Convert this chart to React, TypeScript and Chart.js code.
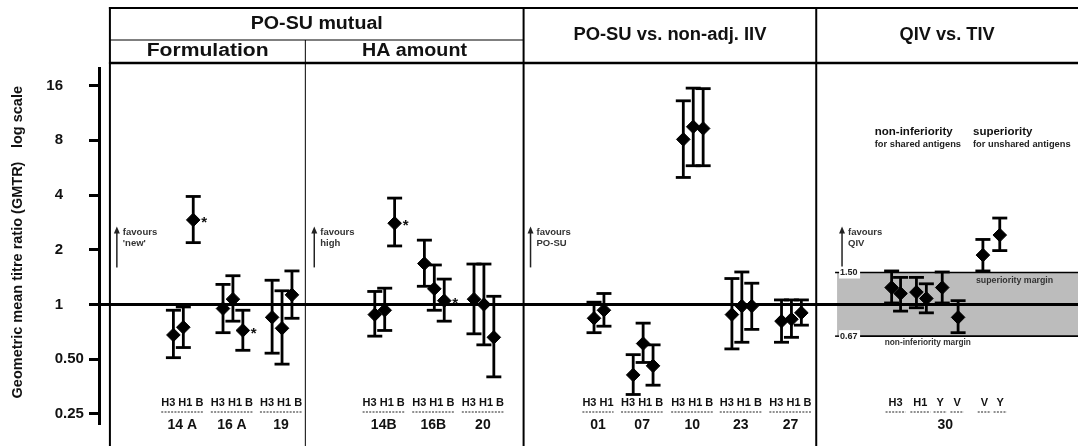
import React, { useEffect, useRef } from 'react';
import { Chart, registerables } from 'chart.js';

Chart.register(...registerables);

const FONT = '"Liberation Sans", Arial, Helvetica, sans-serif';

// ---------- data ----------
const groupLabels = ['14 A', '16 A', '19', '14B', '16B', '20', '01', '07', '10', '23', '27'];
const groupCenters = [8.7, 13.7, 18.65, 29.0, 34.0, 39.0, 50.6, 55.05, 60.1, 65.0, 70.0];
const groupAntigens = [
  ['H3', 'H1', 'B'], ['H3', 'H1', 'B'], ['H3', 'H1', 'B'],
  ['H3', 'H1', 'B'], ['H3', 'H1', 'B'], ['H3', 'H1', 'B'],
  ['H3', 'H1'], ['H3', 'H1', 'B'], ['H3', 'H1', 'B'], ['H3', 'H1', 'B'], ['H3', 'H1', 'B'],
];
const groupGmtr = [
  [0.68, 0.75, 2.92], [0.95, 1.07, 0.72], [0.85, 0.74, 1.13],
  [0.88, 0.93, 2.80], [1.68, 1.22, 1.05], [1.07, 1.0, 0.66],
  [0.84, 0.93], [0.41, 0.61, 0.46], [8.1, 9.5, 9.3], [0.88, 0.98, 0.98], [0.81, 0.83, 0.9],
];
const groupLow = [
  [0.51, 0.58, 2.19], [0.70, 0.81, 0.56], [0.54, 0.47, 0.84],
  [0.67, 0.72, 2.10], [1.26, 0.93, 0.81], [0.69, 0.60, 0.40],
  [0.70, 0.76], [0.32, 0.48, 0.36], [5.0, 5.8, 5.8], [0.57, 0.62, 0.73], [0.62, 0.66, 0.77],
];
const groupHigh = [
  [0.93, 0.97, 3.93], [1.29, 1.44, 0.93], [1.36, 1.19, 1.53],
  [1.18, 1.23, 3.85], [2.26, 1.65, 1.38], [1.67, 1.67, 1.11],
  [1.03, 1.15], [0.53, 0.79, 0.60], [13.2, 15.5, 15.4], [1.39, 1.51, 1.31], [1.06, 1.06, 1.06],
];
const starredGroups = ['14 A', '16 A', '14B', '16B'];
const starredAntigen = 'B';

const qivAntigens = ['H3', 'H3', 'H1', 'H1', 'Y', 'V', 'V', 'Y'];
const qivPositions = [80.1, 81.0, 82.6, 83.6, 85.2, 86.8, 89.3, 91.0];
const qivGmtr = [1.24, 1.15, 1.17, 1.08, 1.24, 0.85, 1.87, 2.41];
const qivLow = [1.02, 0.92, 0.96, 0.9, 1.02, 0.7, 1.53, 1.98];
const qivHigh = [1.53, 1.41, 1.41, 1.3, 1.51, 1.05, 2.28, 2.99];
const qivTickLabels = ['H3', 'H1', 'Y', 'V', 'V', 'Y'];
const qivTickPositions = [80.5, 83.0, 85.0, 86.7, 89.45, 91.05];
const qivGroupLabel = '30';
const qivGroupCenter = 85.5;

const yTickValues = [0.25, 0.5, 1, 2, 4, 8, 16];
const yTickLabels = ['0.25', '0.50', '1', '2', '4', '8', '16'];
const superiorityMargin = 1.5;
const nonInferiorityMargin = 0.67;
const marginLabels = ['1.50', '0.67'];

const panelDividers = [1.3, 21.0, 43.0, 72.5];
const qivBandStart = 74.6;
const favoursX = [2.0, 21.9, 43.7, 75.1];
const favoursText = [['favours', "'new'"], ['favours', 'high'], ['favours', 'PO-SU'], ['favours', 'QIV']];
const favoursRange = [1.6, 2.65];
const qivNotes = [
  { x: 78.4, title: 'non-inferiority', sub: 'for shared antigens' },
  { x: 88.3, title: 'superiority', sub: 'for unshared antigens' },
];

const X_MIN = 0.2;
const X_MAX = 98.1;
const Y_MIN = 0.223;
const Y_MAX = 20;
const POINT_SPACING = 1.0;

type Pt = { x: number; y: number; low: number; high: number; star: boolean };

function buildPoints(): Pt[] {
  const pts: Pt[] = [];
  groupLabels.forEach((g, gi) => {
    const n = groupGmtr[gi].length;
    groupGmtr[gi].forEach((v, i) => {
      pts.push({
        x: groupCenters[gi] + (i - (n - 1) / 2) * POINT_SPACING,
        y: v,
        low: groupLow[gi][i],
        high: groupHigh[gi][i],
        star: starredGroups.includes(g) && groupAntigens[gi][i] === starredAntigen,
      });
    });
  });
  qivGmtr.forEach((v, i) => {
    pts.push({ x: qivPositions[i], y: v, low: qivLow[i], high: qivHigh[i], star: false });
  });
  return pts;
}

function drawText(
  ctx: CanvasRenderingContext2D,
  s: string,
  x: number,
  y: number,
  size: number,
  o: { bold?: boolean; align?: CanvasTextAlign; color?: string; width?: number; sx?: number } = {}
) {
  const { bold = true, align = 'center', color = '#111', width = 0, sx = 1 } = o;
  ctx.save();
  ctx.font = `${bold ? 'bold ' : ''}${size}px ${FONT}`;
  ctx.fillStyle = color;
  ctx.textBaseline = 'middle';
  ctx.textAlign = align;
  const w = ctx.measureText(s).width;
  const k = width ? width / w : sx;
  ctx.translate(x, y);
  ctx.scale(k, 1);
  ctx.fillText(s, 0, 0);
  ctx.restore();
  return w * k;
}

function line(ctx: CanvasRenderingContext2D, x1: number, y1: number, x2: number, y2: number, w: number, color = '#000') {
  ctx.save();
  ctx.strokeStyle = color;
  ctx.lineWidth = w;
  ctx.beginPath();
  ctx.moveTo(x1, y1);
  ctx.lineTo(x2, y2);
  ctx.stroke();
  ctx.restore();
}

function dashedUnderline(ctx: CanvasRenderingContext2D, x1: number, x2: number, y: number) {
  ctx.save();
  ctx.strokeStyle = '#222';
  ctx.lineWidth = 1.2;
  ctx.setLineDash([2, 1.3]);
  ctx.beginPath();
  ctx.moveTo(x1, y);
  ctx.lineTo(x2, y);
  ctx.stroke();
  ctx.restore();
}

const HEADER_TOP = 8;
const HEADER_MID = 40;
const HEADER_BOTTOM = 63;
const ANTIGEN_Y = 403;
const UNDERLINE_Y = 412;
const GROUP_Y = 425;

export default function App() {
  const ref = useRef<HTMLCanvasElement | null>(null);

  useEffect(() => {
    document.body.style.margin = '0';
    const canvas = ref.current;
    if (!canvas) return;
    const points = buildPoints();

    const decor = {
      id: 'decor',
      beforeDatasetsDraw(chart: any) {
        const { ctx, chartArea: ca } = chart;
        const xs = chart.scales.x;
        const ys = chart.scales.y;
        const W = chart.width;
        const H = chart.height;

        // grey margin band
        const bx = xs.getPixelForValue(qivBandStart);
        const yS = ys.getPixelForValue(superiorityMargin);
        const yN = ys.getPixelForValue(nonInferiorityMargin);
        ctx.save();
        ctx.fillStyle = '#bcbcbc';
        ctx.fillRect(bx, yS, W - bx, yN - yS);
        ctx.restore();
        line(ctx, bx + 22, yS, W, yS, 1.6);
        line(ctx, bx + 22, yN, W, yN, 1.6);

        // panel frames
        const px = panelDividers.map((v) => xs.getPixelForValue(v));
        line(ctx, px[0] - 1, HEADER_TOP, W, HEADER_TOP, 2.2);
        line(ctx, px[0], HEADER_MID, px[2], HEADER_MID, 1);
        line(ctx, px[0] - 1, HEADER_BOTTOM, W, HEADER_BOTTOM, 2.6);
        line(ctx, px[1], HEADER_MID, px[1], H, 1);
        [px[0], px[2], px[3]].forEach((p) => line(ctx, p, HEADER_TOP - 1, p, H, 2));

        // reference line at 1
        const y1 = ys.getPixelForValue(1);
        line(ctx, ca.left - 10, y1, W, y1, 3);

        // error bars
        const meta = chart.getDatasetMeta(0);
        meta.data.forEach((el: any, i: number) => {
          const p = points[i];
          const yl = ys.getPixelForValue(p.low);
          const yh = ys.getPixelForValue(p.high);
          line(ctx, el.x, yl, el.x, yh, 2.8);
          line(ctx, el.x - 7.5, yl, el.x + 7.5, yl, 2.8);
          line(ctx, el.x - 7.5, yh, el.x + 7.5, yh, 2.8);
        });
      },
      afterDatasetsDraw(chart: any) {
        const { ctx, chartArea: ca } = chart;
        const xs = chart.scales.x;
        const ys = chart.scales.y;
        const px = panelDividers.map((v) => xs.getPixelForValue(v));
        const W = chart.width;

        // stars
        const meta = chart.getDatasetMeta(0);
        meta.data.forEach((el: any, i: number) => {
          if (points[i].star) drawText(ctx, '*', el.x + 8, el.y + 3, 15, { align: 'left' });
        });

        // headers
        drawText(ctx, 'PO-SU mutual', (px[0] + px[2]) / 2, 24.5, 18, { width: 132 });
        drawText(ctx, 'Formulation', (px[0] + px[1]) / 2, 51.5, 18, { width: 122 });
        drawText(ctx, 'HA amount', (px[1] + px[2]) / 2, 51.5, 18, { width: 105 });
        drawText(ctx, 'PO-SU vs. non-adj. IIV', (px[2] + px[3]) / 2, 35.5, 18, { width: 193 });
        drawText(ctx, 'QIV vs. TIV', (px[3] + W) / 2, 35.5, 18, { width: 95 });

        // y tick labels (decimal aligned)
        const decX = ca.left - 36;
        yTickValues.forEach((v, i) => {
          const yy = ys.getPixelForValue(v);
          const lab = yTickLabels[i];
          const dot = lab.indexOf('.');
          if (dot < 0) {
            drawText(ctx, lab, decX, yy, 15, { align: 'right' });
          } else {
            drawText(ctx, lab.slice(0, dot), decX, yy, 15, { align: 'right' });
            drawText(ctx, lab.slice(dot), decX, yy, 15, { align: 'left' });
          }
        });

        // y axis title
        ctx.save();
        ctx.translate(18, 0);
        ctx.rotate(-Math.PI / 2);
        drawText(ctx, 'Geometric mean titre ratio (GMTR)', -280, 0, 14.5);
        drawText(ctx, 'log scale', -117, 0, 14.5);
        ctx.restore();

        // group antigen labels + group labels
        groupLabels.forEach((g, gi) => {
          const cx = xs.getPixelForValue(groupCenters[gi]) - 1;
          const s = groupAntigens[gi].join(' ');
          const w = drawText(ctx, s, cx, ANTIGEN_Y, 11);
          dashedUnderline(ctx, cx - w / 2, cx + w / 2, UNDERLINE_Y);
          drawText(ctx, g, cx, GROUP_Y, 14);
        });
        qivTickLabels.forEach((t, i) => {
          const cx = xs.getPixelForValue(qivTickPositions[i]);
          const w = drawText(ctx, t, cx, ANTIGEN_Y, 11);
          dashedUnderline(ctx, cx - w / 2 - 3, cx + w / 2 + 3, UNDERLINE_Y);
        });
        drawText(ctx, qivGroupLabel, xs.getPixelForValue(qivGroupCenter), GROUP_Y, 14);

        // favours arrows
        favoursX.forEach((fx, i) => {
          const ax = xs.getPixelForValue(fx);
          const yb = ys.getPixelForValue(favoursRange[0]);
          const yt = ys.getPixelForValue(favoursRange[1]);
          line(ctx, ax, yb, ax, yt + 4, 1.5, '#222');
          ctx.save();
          ctx.fillStyle = '#222';
          ctx.beginPath();
          ctx.moveTo(ax, yt - 1);
          ctx.lineTo(ax - 3, yt + 6);
          ctx.lineTo(ax + 3, yt + 6);
          ctx.closePath();
          ctx.fill();
          ctx.restore();
          drawText(ctx, favoursText[i][0], ax + 6, yt + 5, 9.5, { align: 'left', color: '#333' });
          drawText(ctx, favoursText[i][1], ax + 6, yt + 16, 9.5, { align: 'left', color: '#333' });
        });

        // QIV panel notes
        qivNotes.forEach((n) => {
          const nx = xs.getPixelForValue(n.x);
          drawText(ctx, n.title, nx, 131.5, 11.5, { align: 'left' });
          drawText(ctx, n.sub, nx, 144.5, 9.3, { align: 'left', color: '#222' });
        });

        // margin labels
        const bx = xs.getPixelForValue(qivBandStart);
        [superiorityMargin, nonInferiorityMargin].forEach((m, i) => {
          const yy = ys.getPixelForValue(m);
          ctx.save();
          ctx.fillStyle = '#fff';
          ctx.fillRect(bx + 2, yy - 6, 21, 12);
          ctx.restore();
          line(ctx, bx - 2, yy, bx + 2, yy, 1.5);
          drawText(ctx, marginLabels[i], bx + 3, yy, 9, { align: 'left', color: '#222' });
        });
        const yS = ys.getPixelForValue(superiorityMargin);
        const yN = ys.getPixelForValue(nonInferiorityMargin);
        drawText(ctx, 'superiority margin', xs.getPixelForValue(88.6), yS + 8, 8.8, { align: 'left', color: '#333' });
        drawText(ctx, 'non-inferiority margin', xs.getPixelForValue(79.4), yN + 7, 8.3, { align: 'left', color: '#333' });
      },
    };

    const chart = new Chart(canvas, {
      type: 'scatter',
      data: {
        datasets: [
          {
            data: points.map((p) => ({ x: p.x, y: p.y })),
            pointStyle: 'rectRot',
            pointRadius: 6.8,
            backgroundColor: '#000',
            borderColor: '#000',
            borderWidth: 1,
            showLine: false,
          },
        ],
      },
      options: {
        animation: false,
        responsive: false,
        maintainAspectRatio: false,
        layout: { padding: { top: 68, bottom: 23, left: 0, right: 0 } },
        plugins: { legend: { display: false }, tooltip: { enabled: false } },
        scales: {
          x: { type: 'linear', min: X_MIN, max: X_MAX, display: false },
          y: {
            type: 'logarithmic',
            min: Y_MIN,
            max: Y_MAX,
            afterFit: (s: any) => {
              s.width = 99;
            },
            afterBuildTicks: (s: any) => {
              s.ticks = yTickValues.map((v) => ({ value: v }));
            },
            ticks: { display: false },
            grid: { drawOnChartArea: false, drawTicks: true, tickLength: 10, lineWidth: 3, color: '#000' },
            border: { display: true, width: 3, color: '#000' },
          },
        },
      },
      plugins: [decor],
    } as any);

    return () => chart.destroy();
  }, []);

  return <canvas ref={ref} width={1078} height={446} style={{ display: 'block' }} />;
}
